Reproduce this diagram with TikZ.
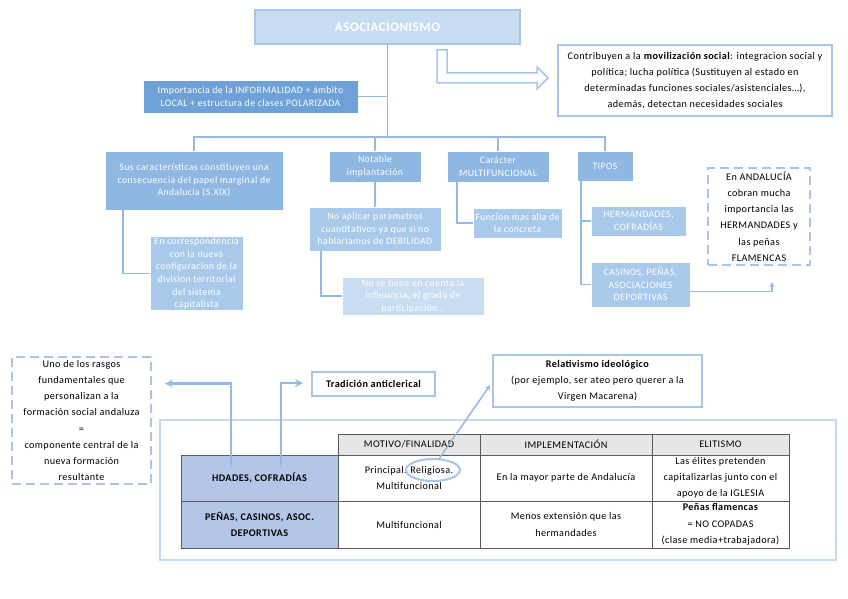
\documentclass[tikz,border=0pt]{standalone}
\usepackage{fontspec}
\setmainfont{Carlito}[LetterSpace=4.0]
\usepackage{tikz}
\usetikzlibrary{shapes,arrows,positioning,calc}

\definecolor{lnblue}{HTML}{94B9E4}
\definecolor{edblue}{HTML}{A7C5E8}
\definecolor{ttfill}{HTML}{C8DCF1}
\definecolor{impfill}{HTML}{6FA1D9}
\definecolor{lvtwo}{HTML}{8EB7E2}
\definecolor{lvthree}{HTML}{A9C9EA}
\definecolor{lvfour}{HTML}{C8DDF2}
\definecolor{rowfill}{HTML}{B4C6E7}
\definecolor{headfill}{HTML}{E7E6E6}
\definecolor{tabline}{HTML}{5A5A5A}
\definecolor{frameblue}{HTML}{C6D9F0}

\newcommand{\txt}{\fontsize{10.2}{16.2}\selectfont}
\newcommand{\tgt}{\fontsize{9.8}{12.6}\selectfont}

\begin{document}
\begin{tikzpicture}[x=1pt,y=-1pt,
every node/.style={align=center,inner sep=1pt,outer sep=0pt,font=\txt},
fillbox/.style={fill=#1,draw=white,line width=0.8pt,text=white,font=\tgt},
linebox/.style={draw=edblue,line width=1.5pt,fill=white},
dashbox/.style={draw=edblue,line width=2.2pt,dash pattern=on 9pt off 5pt},
link/.style={draw=lnblue,line width=1.3pt},
biglink/.style={draw=lnblue,line width=2.5pt,-stealth},
cell/.style={draw=tabline,line width=0.7pt,fill=#1},
cell/.default=white]
\fill[white] (0,0) rectangle (848,599);
\useasboundingbox (0,0) rectangle (848,599);

% upper tree
\node[fillbox=ttfill,draw=edblue,line width=2pt,minimum width=265,minimum height=34,font=\fontsize{13}{15}\selectfont\bfseries] (1) at (387.5,27) {ASOCIACIONISMO};
\node[fillbox=impfill,minimum width=215,minimum height=33] (2) at (250.5,96.5) {Importancia de la INFORMALIDAD + ámbito\\LOCAL + estructura de clases POLARIZADA};
\node[linebox,minimum width=274,minimum height=71] (3) at (695,80.5) {Contribuyen a la \textbf{movilización social}: integracion social y\\política; lucha política (Sustituyen al estado en\\determinadas funciones sociales/asistenciales\dots),\\además, detectan necesidades sociales};
\node[fillbox=lvtwo,minimum width=178,minimum height=59] (4) at (194,180.5) {Sus características constituyen una\\consecuencia del papel marginal de\\Andalucia (S.XIX)};
\node[fillbox=lvthree,minimum width=93,minimum height=73] (5) at (196.5,273.5) {En correspondencia\\con la nueva\\configuracion de la\\division territorial\\del sistema\\capitalista};
\node[fillbox=lvtwo,minimum width=92,minimum height=31] (6) at (375,166.5) {Notable\\implantación};
\node[fillbox=lvthree,minimum width=132,minimum height=44] (7) at (375,229) {No aplicar parametros\\cuantitativos ya que si no\\hablariamos de DEBILIDAD};
\node[fillbox=lvfour,minimum width=142,minimum height=38] (8) at (413,296) {No se tiene en cuenta la\\infleuncia, el grado de\\participación\dots};
\node[fillbox=lvtwo,minimum width=102,minimum height=31] (9) at (498,166.5) {Carácter\\MULTIFUNCIONAL};
\node[fillbox=lvthree,minimum width=89,minimum height=30] (10) at (517.5,223) {Funcion mas alla de\\la concreta};
\node[fillbox=lvtwo,minimum width=56,minimum height=30] (11) at (605,166) {TIPOS};
\node[fillbox=lvthree,minimum width=95,minimum height=30] (12) at (638.5,221) {HERMANDADES,\\COFRADÍAS};
\node[fillbox=lvthree,minimum width=99,minimum height=45] (13) at (640.5,284.5) {CASINOS, PEÑAS,\\ASOCIACIONES\\DEPORTIVAS};
\node[dashbox,minimum width=102,minimum height=97] (14) at (759,216.5) {En ANDALUCÍA\\cobran mucha\\importancia las\\HERMANDADES y\\las peñas\\FLAMENCAS};

\coordinate (b) at (387.5,137);
\draw[link] (1) -- (b);
\draw[link] (2.east) -- (2.east -| b);
\draw[link] (4.north) |- (b);
\draw[link] (6.north) |- (b);
\draw[link] (9.north) |- (b);
\draw[link] (11.north) |- (b);
\draw[link] (4.south west) ++(18,0) |- (5.west);
\draw[link] (6) -- (7);
\draw[link] (7.south west) ++(12,0) |- (8.west);
\draw[link] (9.south west) ++(10,0) |- (10.west);
\draw[link] (11.south west) ++(4,0) |- (12.west);
\draw[link] (11.south west) ++(4,0) |- (13.west);
\draw[link,-stealth] (13.east) ++(0,7) -| (772,282);
\draw[draw=edblue,line width=1.5pt,fill=white,line join=miter]
  (437,50) -- (447,50) -- (447,73) -- (537,73) -- (537,67) -- (548,78)
  -- (537,89) -- (537,83) -- (437,83) -- cycle;

% lower part
\draw[draw=frameblue,line width=2.5pt] (160,420) rectangle (836,560);
\node[dashbox,minimum width=139,minimum height=127] (15) at (81.5,420.5) {Uno de los rasgos\\fundamentales que\\personalizan a la\\formación social andaluza\\=\\componente central de la\\nueva formación\\resultante};
\node[linebox,minimum width=123,minimum height=24,font=\txt\bfseries] (16) at (373.5,384) {Tradición anticlerical};
\node[linebox,minimum width=209,minimum height=52] (17) at (597.5,381) {\textbf{Relativismo ideológico}\\(por ejemplo, ser ateo pero querer a la\\Virgen Macarena)};

\node[cell=headfill,minimum width=142,minimum height=21] (20) at (409,444.5) {MOTIVO/FINALIDAD};
\node[cell=headfill,minimum width=172,minimum height=21] (21) at (566,444.5) {IMPLEMENTACIÓN};
\node[cell=headfill,minimum width=137,minimum height=21] (22) at (720.5,444.5) {ELITISMO};
\node[cell=rowfill,minimum width=157,minimum height=46,font=\txt\bfseries] (23) at (259.5,478) {HDADES, COFRADÍAS};
\node[cell,minimum width=142,minimum height=46] (24) at (409,478) {Principal. Religiosa.\\Multifuncional};
\node[cell,minimum width=172,minimum height=46] (25) at (566,478) {En la mayor parte de Andalucía};
\node[cell,minimum width=137,minimum height=46] (26) at (720.5,478) {Las élites pretenden\\capitalizarlas junto con el\\apoyo de la IGLESIA};
\node[cell=rowfill,minimum width=157,minimum height=47,font=\txt\bfseries] (27) at (259.5,524.5) {PEÑAS, CASINOS, ASOC.\\DEPORTIVAS};
\node[cell,minimum width=142,minimum height=47] (28) at (409,524.5) {Multifuncional};
\node[cell,minimum width=172,minimum height=47] (29) at (566,524.5) {Menos extensión que las\\hermandades};
\node[cell,minimum width=137,minimum height=47] (30) at (720.5,524.5) {\textbf{Peñas flamencas}\\= NO COPADAS\\(clase media+trabajadora)};

\node[draw=edblue,line width=2pt,ellipse,minimum width=54,minimum height=22] (e) at (433,470) {};
\draw[biglink,line width=1.5pt,shorten >=5pt] (e.62) -- (17.west);
\coordinate (l1) at (231,467);
\coordinate (l2) at (281,467);
\draw[biglink] (l1) |- ($(15.east)+(14,-37)$);
\draw[biglink] (l2) |- ($(16.west)+(-9,-1)$);

\end{tikzpicture}
\end{document}
